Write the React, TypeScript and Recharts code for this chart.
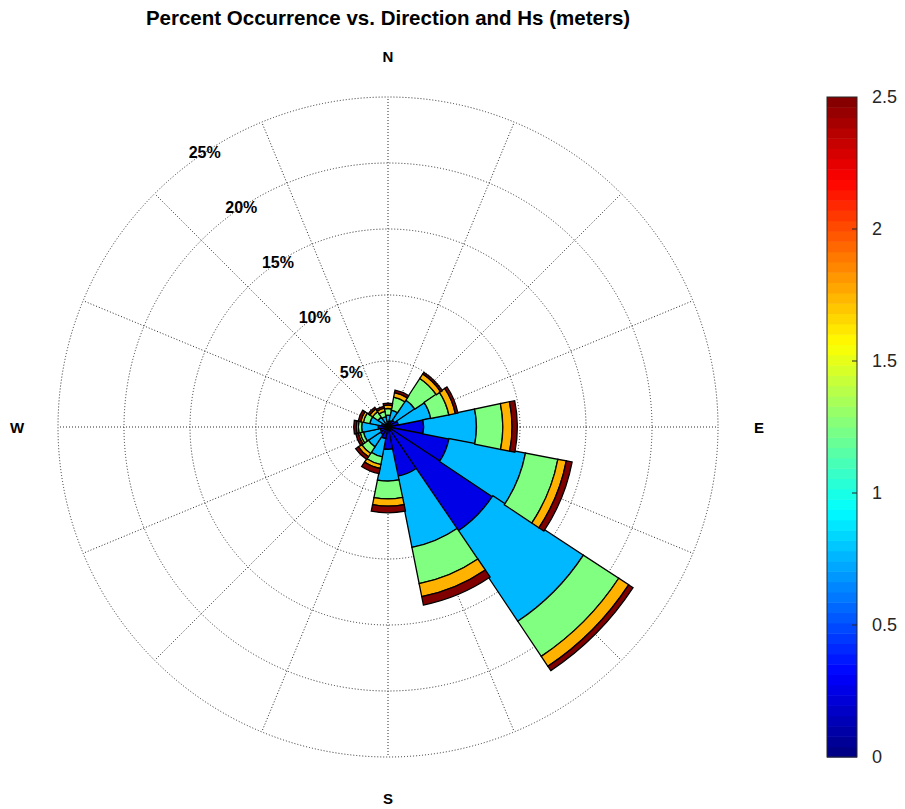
import { RadialBarChart, RadialBar, PolarGrid, PolarAngleAxis, PolarRadiusAxis } from 'recharts';

// 16 compass sectors, clockwise from north
const directions = ['N', 'NNE', 'NE', 'ENE', 'E', 'ESE', 'SE', 'SSE', 'S', 'SSW', 'SW', 'WSW', 'W', 'WNW', 'NW', 'NNW'];

// percent occurrence per Hs bin (meters)
const hsBins = ['0-0.5', '0.5-1', '1-1.5', '1.5-2', '2-2.5'];
const hs0to05 = [0.4, 0.5, 0.6, 0.8, 2.7, 4.7, 9.5, 3.8, 1.7, 0.9, 0.7, 0.6, 0.75, 0.5, 0.3, 0.3];
const hs05to1 = [0.5, 0.8, 1.85, 2.5, 4.0, 5.9, 8.2, 5.5, 2.4, 1.4, 1.1, 1.3, 1.25, 0.9, 0.6, 0.5];
const hs1to15 = [0.5, 1.0, 1.95, 1.4, 2.0, 2.5, 3.2, 2.8, 1.35, 0.6, 0.6, 0.25, 0.25, 0.5, 0.5, 0.4];
const hs15to2 = [0.25, 0.35, 0.4, 0.5, 0.7, 0.65, 0.9, 1.0, 0.55, 0.3, 0.3, 0.15, 0.15, 0.2, 0.25, 0.25];
const hs2to25 = [0.15, 0.2, 0.15, 0.2, 0.4, 0.45, 0.4, 0.65, 0.5, 0.4, 0.25, 0.2, 0.2, 0.2, 0.15, 0.15];
const binColors = ['#0000E6', '#00B8FF', '#80FF80', '#FFB300', '#800000'];

const percentTicks = [5, 10, 15, 20, 25];
const colorbarTicks = [0, 0.5, 1, 1.5, 2, 2.5];
const compassLabels = [
  { label: 'N', angle: 90 },
  { label: 'E', angle: 0 },
  { label: 'S', angle: -90 },
  { label: 'W', angle: 180 },
];

const binSeries = [hs0to05, hs05to1, hs1to15, hs15to2, hs2to25];
const data = directions.map((dir, i) => {
  const row: Record<string, string | number> = { dir };
  hsBins.forEach((bin, b) => {
    row[bin] = binSeries[b][i];
  });
  return row;
});

const W = 905;
const H = 809;
const CX = 388;
const CY = 427;
const OUTER_R = 330;
const MAX_PCT = 25;
const SECTOR = 360 / directions.length;

const FONT = '"Liberation Sans", Arial, Helvetica, sans-serif';

// jet colormap for the colorbar
const jet = (t: number) => {
  const c = (v: number) => Math.round(255 * Math.max(0, Math.min(1, v)));
  return `rgb(${c(1.5 - Math.abs(4 * t - 3))},${c(1.5 - Math.abs(4 * t - 2))},${c(1.5 - Math.abs(4 * t - 1))})`;
};

const CB_X = 827;
const CB_W = 30;
const CB_TOP = 97;
const CB_BOTTOM = 757;
const CB_STEPS = 64;
const CB_MAX = 2.5;

const PercentTick = ({ x, y, payload }: { x?: number; y?: number; payload?: { value: number } }) => {
  if (!payload || x == null || y == null) return null;
  return (
    <text x={x} y={y} textAnchor="middle" dominantBaseline="central" fontFamily={FONT} fontWeight="bold" fontSize={16} fill="#000">
      {payload.value}%
    </text>
  );
};

const Colorbar = () => {
  const stepH = (CB_BOTTOM - CB_TOP) / CB_STEPS;
  const yOf = (v: number) => CB_BOTTOM - (v / CB_MAX) * (CB_BOTTOM - CB_TOP);
  return (
    <g>
      {Array.from({ length: CB_STEPS }, (_, i) => (
        <rect
          key={i}
          x={CB_X}
          y={CB_BOTTOM - (i + 1) * stepH}
          width={CB_W}
          height={stepH + 0.5}
          fill={jet((i + 0.5) / CB_STEPS)}
        />
      ))}
      <rect x={CB_X} y={CB_TOP} width={CB_W} height={CB_BOTTOM - CB_TOP} fill="none" stroke="#262626" strokeWidth={1} />
      {colorbarTicks.map((t) => (
        <g key={t}>
          {t > 0 && t < CB_MAX && (
            <line x1={CB_X + CB_W - 5} x2={CB_X + CB_W} y1={yOf(t)} y2={yOf(t)} stroke="#262626" strokeWidth={1} />
          )}
          <text x={CB_X + CB_W + 15} y={yOf(t)} dominantBaseline="central" fontFamily={FONT} fontSize={18} fill="#262626">
            {t}
          </text>
        </g>
      ))}
    </g>
  );
};

const App = () => {
  const gridRadii = percentTicks.map((p) => (p / MAX_PCT) * OUTER_R);
  const spokeAngles = directions.map((_, i) => 90 - i * SECTOR);
  const labelR = OUTER_R + 41;

  return (
    <div style={{ position: 'absolute', left: 0, top: 0, width: W, height: H, background: '#fff' }}>
      <div style={{ position: 'absolute', left: 0, top: 0 }}>
        <RadialBarChart
          width={W}
          height={H}
          data={data}
          layout="centric"
          cx={CX}
          cy={CY}
          innerRadius={0}
          outerRadius={OUTER_R}
          startAngle={90 - SECTOR / 2}
          endAngle={90 - SECTOR / 2 - 360}
          barCategoryGap="0%"
          barGap={0}
          margin={{ top: 0, right: 0, bottom: 0, left: 0 }}
        >
          <PolarGrid
            gridType="circle"
            polarRadius={gridRadii}
            polarAngles={spokeAngles}
            stroke="#2a2a2a"
            strokeDasharray="1 2"
            strokeWidth={1}
          />
          <PolarAngleAxis dataKey="dir" type="category" tick={false} axisLine={false} tickLine={false} />
          <PolarRadiusAxis
            type="number"
            domain={[0, MAX_PCT]}
            ticks={percentTicks}
            angle={90 + 1.5 * SECTOR}
            axisLine={false}
            tickLine={false}
            tick={<PercentTick />}
          />
          {hsBins.map((bin, b) => (
            <RadialBar
              key={bin}
              dataKey={bin}
              stackId="hs"
              fill={binColors[b]}
              stroke="#000"
              strokeWidth={1.3}
              isAnimationActive={false}
            />
          ))}
        </RadialBarChart>
      </div>
      <svg width={W} height={H} style={{ position: 'absolute', left: 0, top: 0, pointerEvents: 'none' }}>
        <text x={CX} y={17} textAnchor="middle" dominantBaseline="central" fontFamily={FONT} fontWeight="bold" fontSize={20.5} fill="#000">
          Percent Occurrence vs. Direction and Hs (meters)
        </text>
        {compassLabels.map(({ label, angle }) => (
          <text
            key={label}
            x={CX + labelR * Math.cos((angle * Math.PI) / 180)}
            y={CY - labelR * Math.sin((angle * Math.PI) / 180)}
            textAnchor="middle"
            dominantBaseline="central"
            fontFamily={FONT}
            fontWeight="bold"
            fontSize={15}
            fill="#000"
          >
            {label}
          </text>
        ))}
        <Colorbar />
      </svg>
    </div>
  );
};

export default App;
